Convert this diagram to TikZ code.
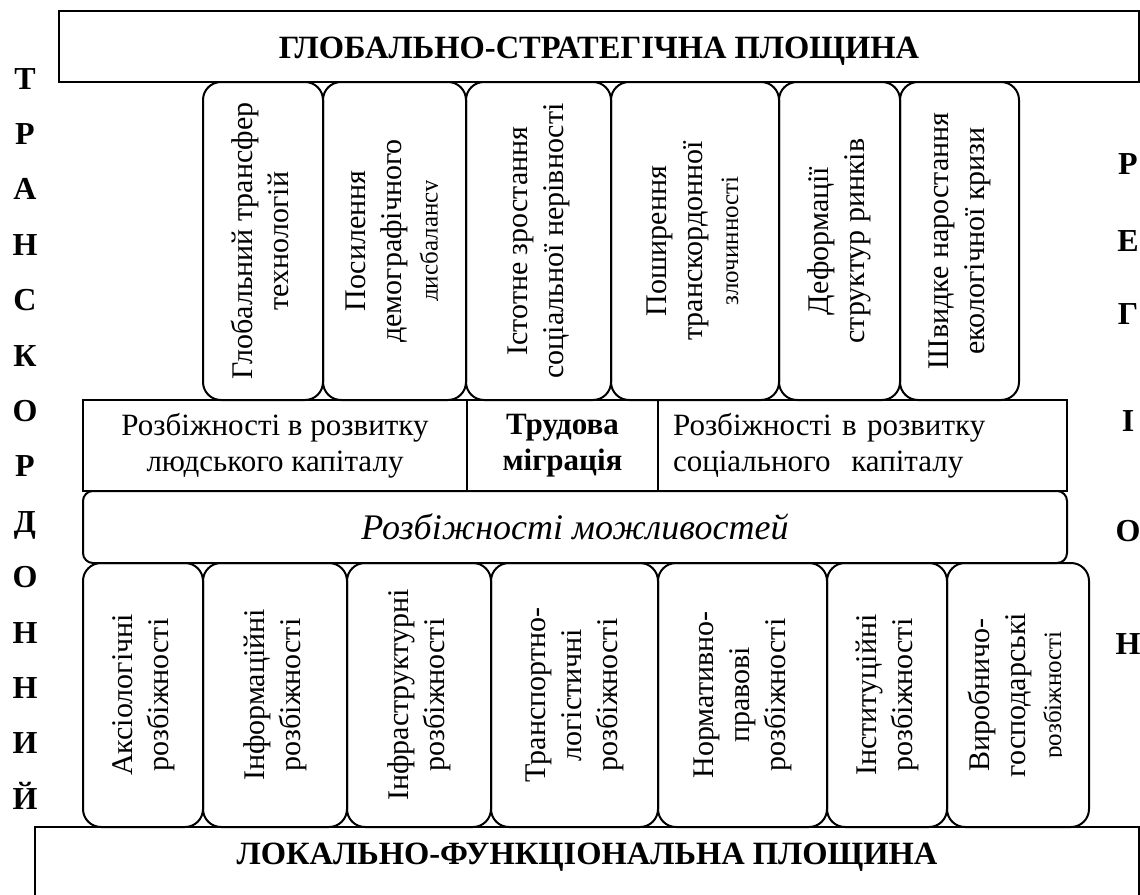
\documentclass[tikz,border=0pt]{standalone}
\usepackage{fontspec}
\setmainfont{Liberation Serif}
\usepackage{trimclip}
\usetikzlibrary{positioning}

\newcommand{\vtext}[1]{\rotatebox{90}{\begin{tabular}{@{}c@{}}#1\end{tabular}}}
\newcommand{\lastline}[1]{{\fontsize{25}{30}\selectfont\clipbox{0pt {\depth} 0pt 0pt}{#1}}}

\tikzset{
  plane/.style={draw, line width=2pt, inner sep=0pt, outer sep=0pt, text height=23pt, text depth=0pt,
    font=\bfseries\fontsize{32.5}{38}\selectfont},
  factor/.style={draw, line width=2pt, rounded corners=18pt, inner sep=0pt, outer sep=0pt,
    font=\fontsize{30}{36}\selectfont},
  gap/.style={draw, line width=2pt, inner sep=0pt, outer sep=0pt, minimum height=91pt,
    align=center, font=\fontsize{31}{36}\selectfont},
  chance/.style={draw, line width=2pt, rounded corners=10pt, inner sep=0pt, outer sep=0pt,
    font=\itshape\fontsize{36}{40}\selectfont},
  letter/.style={inner sep=0pt, text height=22pt, text depth=0pt, font=\bfseries\fontsize{32}{38}\selectfont}
}

\begin{document}
\begin{tikzpicture}[x=1pt, y=-1pt]
	\path[use as bounding box, clip] (0,0) rectangle (1140,894);

	\node[plane, minimum width=1080pt, minimum height=71pt, anchor=north west] (global) at (59,11) {ГЛОБАЛЬНО-СТРАТЕГІЧНА ПЛОЩИНА};

	\node[factor, minimum width=120pt, minimum height=318pt, below right=0pt and 144pt of global.south west] (g1) {\vtext{Глобальний трансфер\\технологій}};
	\node[factor, minimum width=143pt, minimum height=318pt, right=0pt of g1] (g2) {\vtext{Посилення\\демографічного\\\lastline{дисбалансу}}};
	\node[factor, minimum width=145pt, minimum height=318pt, right=0pt of g2] (g3) {\vtext{Істотне зростання\\соціальної нерівності}};
	\node[factor, minimum width=168pt, minimum height=318pt, right=0pt of g3] (g4) {\vtext{Поширення\\транскордонної\\\lastline{злочинності}}};
	\node[factor, minimum width=121pt, minimum height=318pt, right=0pt of g4] (g5) {\vtext{Деформації\\структур ринків}};
	\node[factor, minimum width=119pt, minimum height=318pt, right=0pt of g5] (g6) {\vtext{Швидке наростання\\екологічної кризи}};

	\node[gap, minimum width=384pt, anchor=north west] (human) at ([xshift=-120pt]g1.south west) {Розбіжності в розвитку\\людського капіталу};
	\node[gap, minimum width=191pt, right=0pt of human, font=\bfseries\fontsize{31}{36}\selectfont] (migration) {Трудова\\міграція};
	\node[gap, text width=379pt, inner xsep=15pt, align=left, right=0pt of migration] (social) {Розбіжності в розвитку\\соціального~ капіталу};

	\node[chance, minimum width=984pt, minimum height=72pt, below right=0pt and 0pt of human.south west] (chances) {Розбіжності можливостей};

	\node[factor, minimum width=120pt, minimum height=264pt, below right=0pt and 0pt of chances.south west] (l1) {\vtext{Аксіологічні\\розбіжності}};
	\node[factor, minimum width=144pt, minimum height=264pt, right=0pt of l1] (l2) {\vtext{Інформаційні\\розбіжності}};
	\node[factor, minimum width=144pt, minimum height=264pt, right=0pt of l2] (l3) {\vtext{Інфраструктурні\\розбіжності}};
	\node[factor, minimum width=167pt, minimum height=264pt, right=0pt of l3] (l4) {\vtext{Транспортно-\\логістичні\\розбіжності}};
	\node[factor, minimum width=169pt, minimum height=264pt, right=0pt of l4] (l5) {\vtext{Нормативно-\\правові\\розбіжності}};
	\node[factor, minimum width=120pt, minimum height=264pt, right=0pt of l5] (l6) {\vtext{Інституційні\\розбіжності}};
	\node[factor, minimum width=142pt, minimum height=264pt, right=0pt of l6] (l7) {\vtext{Виробничо-\\господарські\\\lastline{розбіжності}}};

	\node[plane, minimum width=1104pt, inner ysep=14pt, text depth=80pt, anchor=north west] (local) at ([xshift=-48pt]l1.south west) {ЛОКАЛЬНО-ФУНКЦІОНАЛЬНА ПЛОЩИНА};

	\foreach \l [count=\i from 0] in {Т,Р,А,Н,С,К,О,Р,Д,О,Н,Н,И,Й}
		\node[letter] (t\i) at (25,78+55.4*\i) {\l};
	\foreach \l/\y [count=\i] in {Р/163,Е/240,Г/313,І/420,О/530,Н/643}
		\node[letter] (r\i) at (1128,\y) {\l};
\end{tikzpicture}
\end{document}
